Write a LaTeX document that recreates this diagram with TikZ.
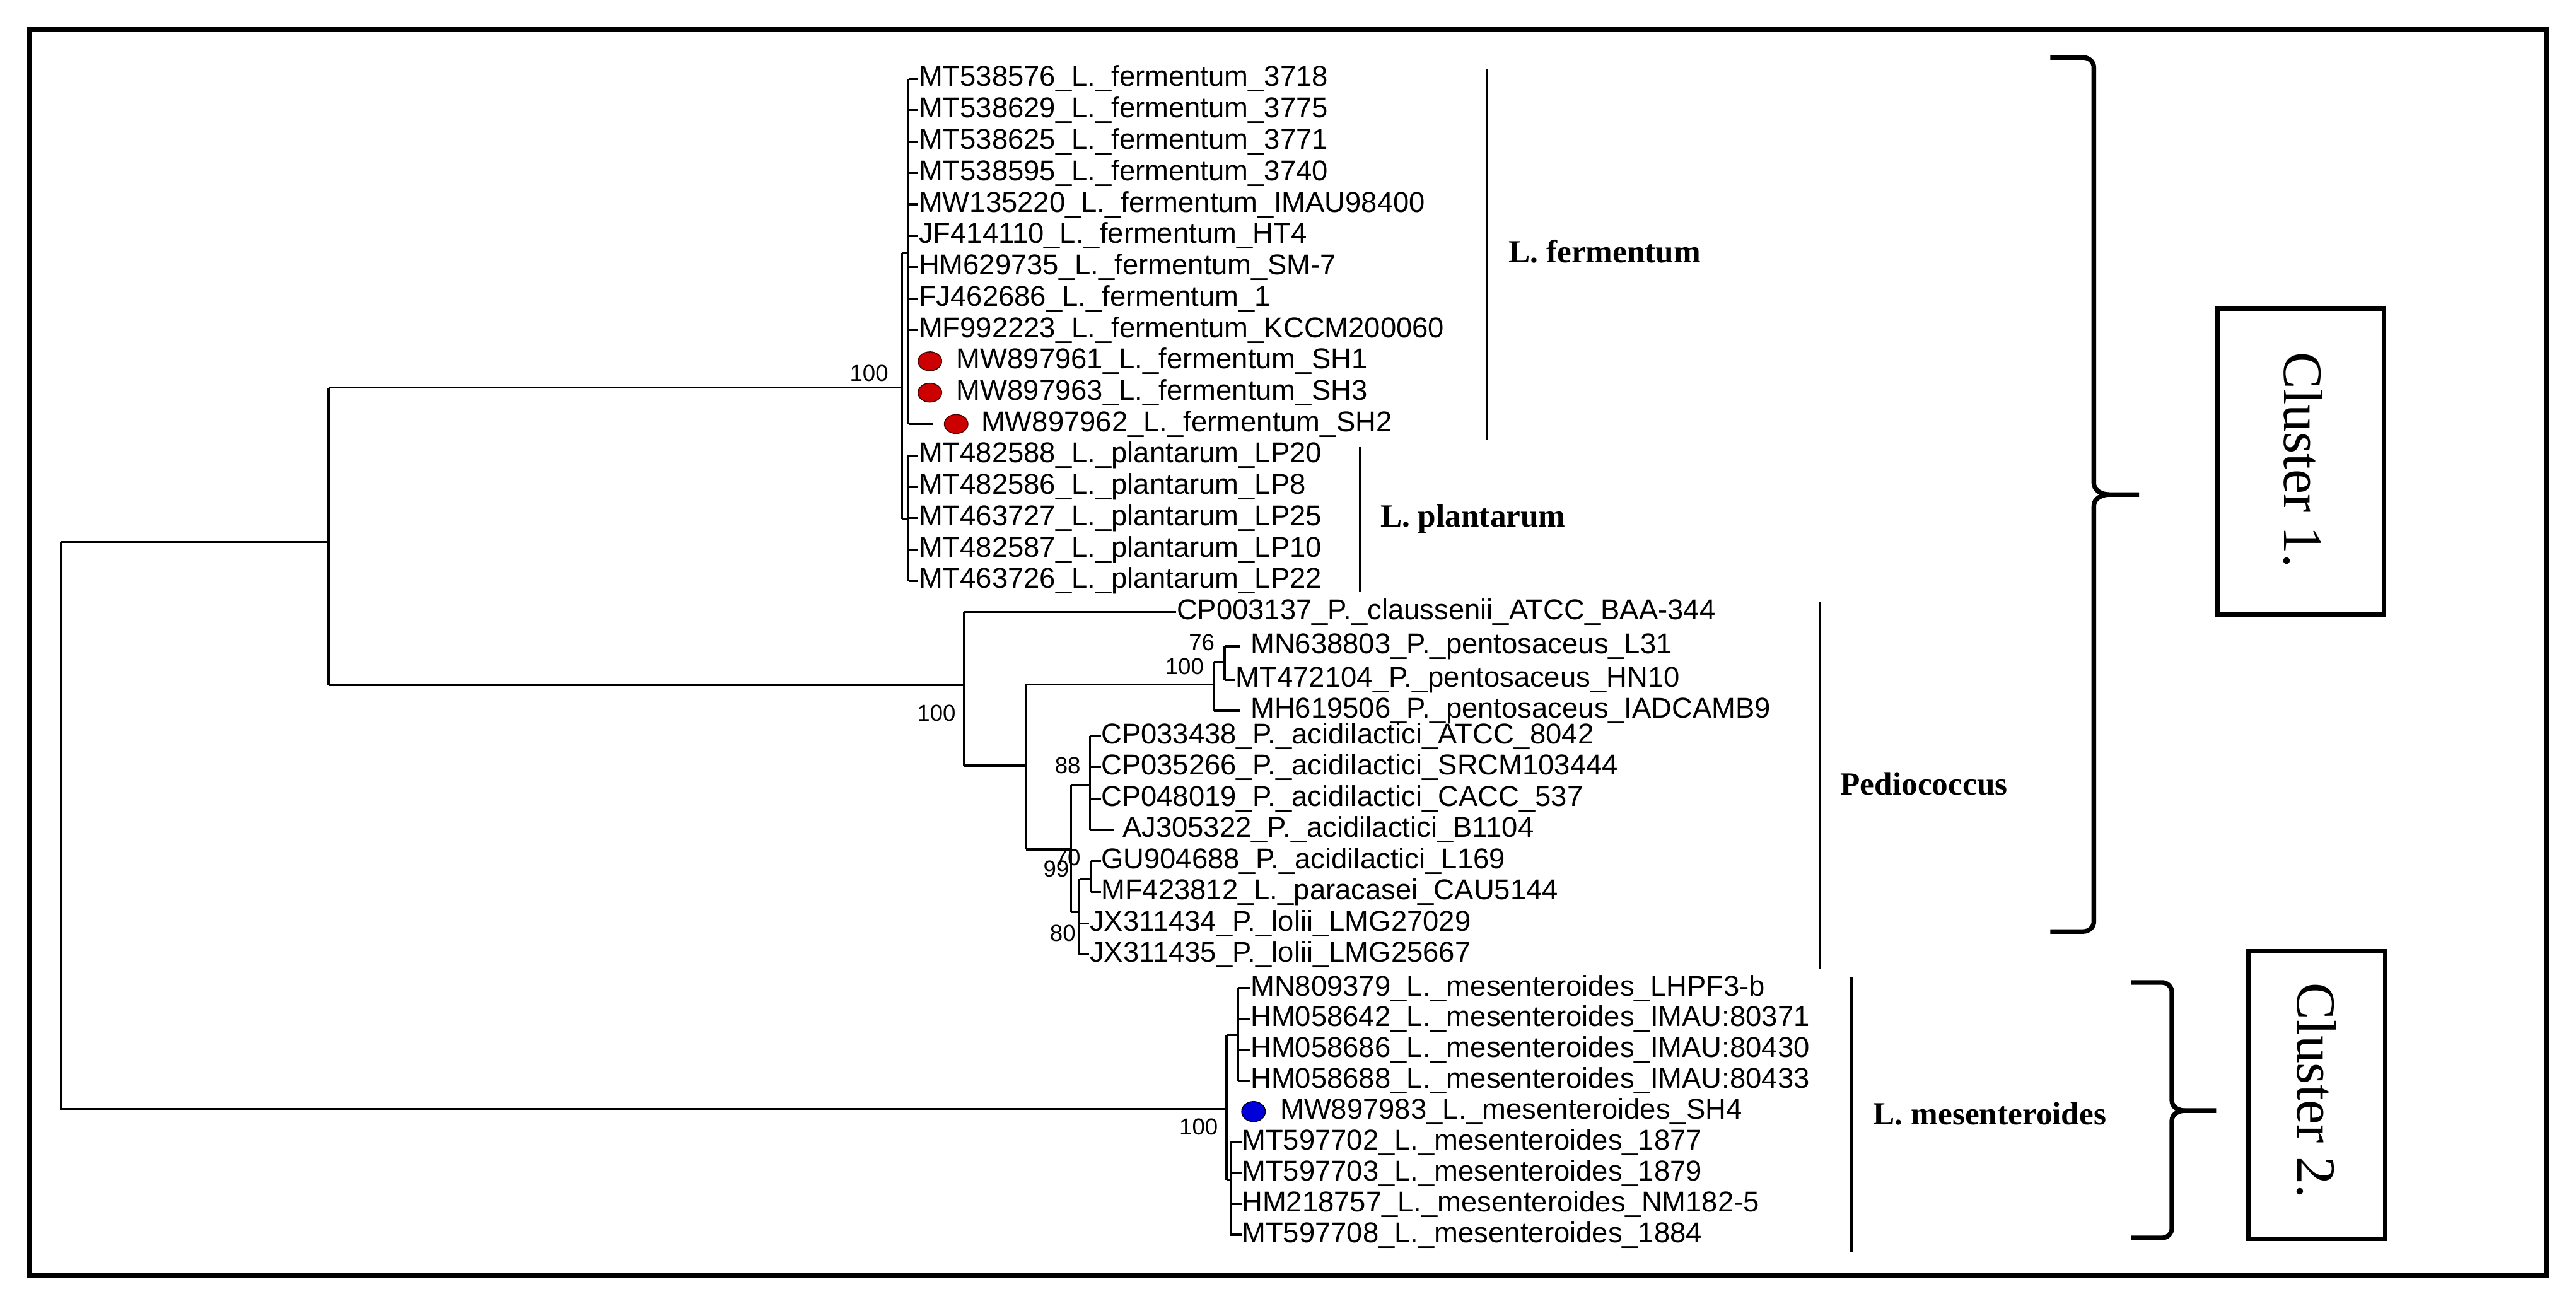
\documentclass[tikz,border=0pt]{standalone}
\usepackage{fontspec}
\setmainfont{Liberation Serif}
\setsansfont{Liberation Sans}
\begin{document}
\begin{tikzpicture}[x=0.025cm,y=-0.025cm,
  br/.style={line width=0.9pt},
  leaf/.style={anchor=west,inner sep=0pt,font=\sffamily\fontsize{12.4}{14}\selectfont},
  boot/.style={anchor=east,inner sep=0pt,font=\sffamily\fontsize{10}{12}\selectfont},
  grp/.style={anchor=west,inner sep=0pt,font=\bfseries\fontsize{14}{16}\selectfont},
  bar/.style={line width=0.9pt},
  brace/.style={line width=2pt},
  ctext/.style={font=\fontsize{24}{28}\selectfont,rotate=-90,inner sep=0pt},
  rdot/.style={circle,draw=black!70!red,fill=red!80!black,inner sep=0pt,minimum width=0.36cm,yscale=0.8},
  bdot/.style={circle,draw=black,fill=blue!85!black,inner sep=0pt,minimum width=0.36cm,yscale=0.85}]
\useasboundingbox (0,0) rectangle (1568,794.56);
\draw[line width=2.1pt] (18,18) rectangle (1550,776);
% tree coordinates
\coordinate (root) at (37,330);
\coordinate (n200) at (200,330);
\coordinate (nLP) at (549,236);
\coordinate (nF) at (553,154);
\coordinate (nP) at (553,316);
\coordinate (nPed) at (586.6,417);
\coordinate (nPed2) at (624.5,466);
\coordinate (nA) at (739,416.6);
\coordinate (nB) at (745.4,403);
\coordinate (nC) at (652,517);
\coordinate (nD) at (663.5,478);
\coordinate (nE) at (657,555);
\coordinate (nF2) at (664,535);
\coordinate (nM) at (746.6,675);
\coordinate (nS1) at (753.6,630);
\coordinate (nS2) at (749,718);
% fermentum leaves
\foreach \i/\t in {0/MT538576\_L.\_fermentum\_3718,1/MT538629\_L.\_fermentum\_3775,2/MT538625\_L.\_fermentum\_3771,3/MT538595\_L.\_fermentum\_3740,4/MW135220\_L.\_fermentum\_IMAU98400,5/JF414110\_L.\_fermentum\_HT4,6/HM629735\_L.\_fermentum\_SM-7,7/FJ462686\_L.\_fermentum\_1,8/MF992223\_L.\_fermentum\_KCCM200060}{
  \node[leaf] (f\i) at (559,48+19.1*\i) {\t};
  \draw[br] (553,48+19.1*\i) -- (f\i.west);
}
\node[leaf] (f9) at (582,219.9) {MW897961\_L.\_fermentum\_SH1};
\node[rdot] (d9) at (566,219.9) {};
\node[leaf] (f10) at (582,239) {MW897963\_L.\_fermentum\_SH3};
\node[rdot] (d10) at (566,239) {};
\node[leaf] (f11) at (597,258.1) {MW897962\_L.\_fermentum\_SH2};
\node[rdot] (d11) at (582,258.1) {};
\coordinate (e11) at (568,258.1);
\draw[br] (553,258.1) -- (e11);
\draw[br] (553,48) -- (553,258.1);
% plantarum leaves
\foreach \i/\t in {0/MT482588\_L.\_plantarum\_LP20,1/MT482586\_L.\_plantarum\_LP8,2/MT463727\_L.\_plantarum\_LP25,3/MT482587\_L.\_plantarum\_LP10,4/MT463726\_L.\_plantarum\_LP22}{
  \node[leaf] (p\i) at (559,277.2+19.1*\i) {\t};
  \draw[br] (553,277.2+19.1*\i) -- (p\i.west);
}
\draw[br] (553,277.2) -- (553,353.6);
% upper clade structure
\draw[br] (root) |- (n200);
\draw[br] (root) |- (nM);
\draw[br] (200,236) -- (200,417);
\draw[br] (n200 |- nLP) -- (nLP);
\draw[br] (549,154) -- (549,316);
\draw[br] (549,154) -- (nF);
\draw[br] (549,316) -- (nP);
\draw[br] (200,417) -- (nPed);
% pediococcus
\draw[br] (586.6,372.5) -- (586.6,466);
\node[leaf] (c0) at (716,372.5) {CP003137\_P.\_claussenii\_ATCC\_BAA-344};
\draw[br] (586.6,372.5) -- (c0.west);
\draw[br] (586.6,466) -- (nPed2);
\draw[br] (624.5,416.6) -- (624.5,517);
\draw[br] (624.5,416.6) -- (nA);
\draw[br] (739,403) -- (739,432.6);
\draw[br] (739,403) -- (nB);
\draw[br] (745.4,393.4) -- (745.4,413.8);
\node[leaf] (k0) at (761,393.4) {MN638803\_P.\_pentosaceus\_L31};
\node[leaf] (k1) at (752,413.8) {MT472104\_P.\_pentosaceus\_HN10};
\node[leaf] (k2) at (761,432.6) {MH619506\_P.\_pentosaceus\_IADCAMB9};
\draw[br] (745.4,393.4) -- (755,393.4);
\draw[br] (745.4,413.8) -- (k1.west);
\draw[br] (739,432.6) -- (755,432.6);
\draw[br] (624.5,517) -- (nC);
\draw[br] (652,478) -- (652,555);
\draw[br] (652,478) -- (nD);
\draw[br] (663.5,448) -- (663.5,505);
\foreach \i/\t in {0/CP033438\_P.\_acidilactici\_ATCC\_8042,1/CP035266\_P.\_acidilactici\_SRCM103444,2/CP048019\_P.\_acidilactici\_CACC\_537}{
  \node[leaf] (a\i) at (670,448+19*\i) {\t};
  \draw[br] (663.5,448+19*\i) -- (a\i.west);
}
\node[leaf] (a3) at (683,505) {AJ305322\_P.\_acidilactici\_B1104};
\draw[br] (663.5,505) -- (678,505);
\draw[br] (652,555) -- (nE);
\draw[br] (657,535) -- (657,581);
\draw[br] (657,535) -- (nF2);
\draw[br] (664,524) -- (664,543);
\node[leaf] (a4) at (670,524) {GU904688\_P.\_acidilactici\_L169};
\node[leaf] (a5) at (670,543) {MF423812\_L.\_paracasei\_CAU5144};
\node[leaf] (a6) at (663,562) {JX311434\_P.\_lolii\_LMG27029};
\node[leaf] (a7) at (663,581) {JX311435\_P.\_lolii\_LMG25667};
\draw[br] (664,524) -- (a4.west);
\draw[br] (664,543) -- (a5.west);
\draw[br] (657,562) -- (a6.west);
\draw[br] (657,581) -- (a7.west);
% mesenteroides
\draw[br] (746.6,630) -- (746.6,718);
\draw[br] (746.6,630) -- (nS1);
\draw[br] (746.6,718) -- (nS2);
\draw[br] (753.6,601.5) -- (753.6,657.8);
\draw[br] (749,695.3) -- (749,751.6);
\foreach \i/\t in {0/MN809379\_L.\_mesenteroides\_LHPF3-b,1/HM058642\_L.\_mesenteroides\_IMAU:80371,2/HM058686\_L.\_mesenteroides\_IMAU:80430,3/HM058688\_L.\_mesenteroides\_IMAU:80433}{
  \node[leaf] (m\i) at (761,601.5+18.76*\i) {\t};
  \draw[br] (753.6,601.5+18.76*\i) -- (m\i.west);
}
\node[bdot] (d4) at (763,676.6) {};
\node[leaf] (m4) at (779,676.6) {MW897983\_L.\_mesenteroides\_SH4};
\foreach \i/\t in {5/MT597702\_L.\_mesenteroides\_1877,6/MT597703\_L.\_mesenteroides\_1879,7/HM218757\_L.\_mesenteroides\_NM182-5,8/MT597708\_L.\_mesenteroides\_1884}{
  \node[leaf] (m\i) at (755.6,601.5+18.76*\i) {\t};
  \draw[br] (749,601.5+18.76*\i) -- (m\i.west);
}
% bootstrap labels
\node[boot] at (541,227) {100};
\node[boot] at (582,434) {100};
\node[boot] at (739.6,391) {76};
\node[boot] at (733,405.7) {100};
\node[boot] at (658,466) {88};
\node[boot] at (651,529) {99};
\node[boot] at (658,522) {70};
\node[boot] at (655,568) {80};
\node[boot] at (741.6,686) {100};
% group bars
\draw[bar] (905,42) -- (905,268);
\node[grp] (gF) at (918,153) {L. fermentum};
\draw[bar] (828,272) -- (828,360);
\node[grp] (gP) at (840,316) {L. plantarum};
\draw[bar] (1108,366) -- (1108,590);
\node[grp] (gPed) at (1120,477) {Pediococcus};
\draw[bar] (1127,595) -- (1127,762);
\node[grp] (gM) at (1140,678) {L. mesenteroides};
% braces
\draw[brace] (1248,35) -- (1268,35) to[out=0,in=90] (1274.5,41) -- (1274.5,294) to[out=-90,in=180] (1284,301) -- (1302,301);
\draw[brace] (1248,567) -- (1268,567) to[out=0,in=-90] (1274.5,561) -- (1274.5,308) to[out=90,in=180] (1284,301);
\draw[brace] (1297,598) -- (1316,598) to[out=0,in=90] (1322,604) -- (1322,670) to[out=-90,in=180] (1330,676) -- (1349,676);
\draw[brace] (1297,753.5) -- (1316,753.5) to[out=0,in=-90] (1322,747.5) -- (1322,682) to[out=90,in=180] (1330,676);
% cluster boxes
\draw[line width=2pt] (1350,188) rectangle (1451,374);
\node[ctext] (cl1) at (1402,280) {Cluster 1.};
\draw[line width=2pt] (1368.6,579) rectangle (1452,754);
\node[ctext] (cl2) at (1410,664) {Cluster 2.};
\end{tikzpicture}
\end{document}
